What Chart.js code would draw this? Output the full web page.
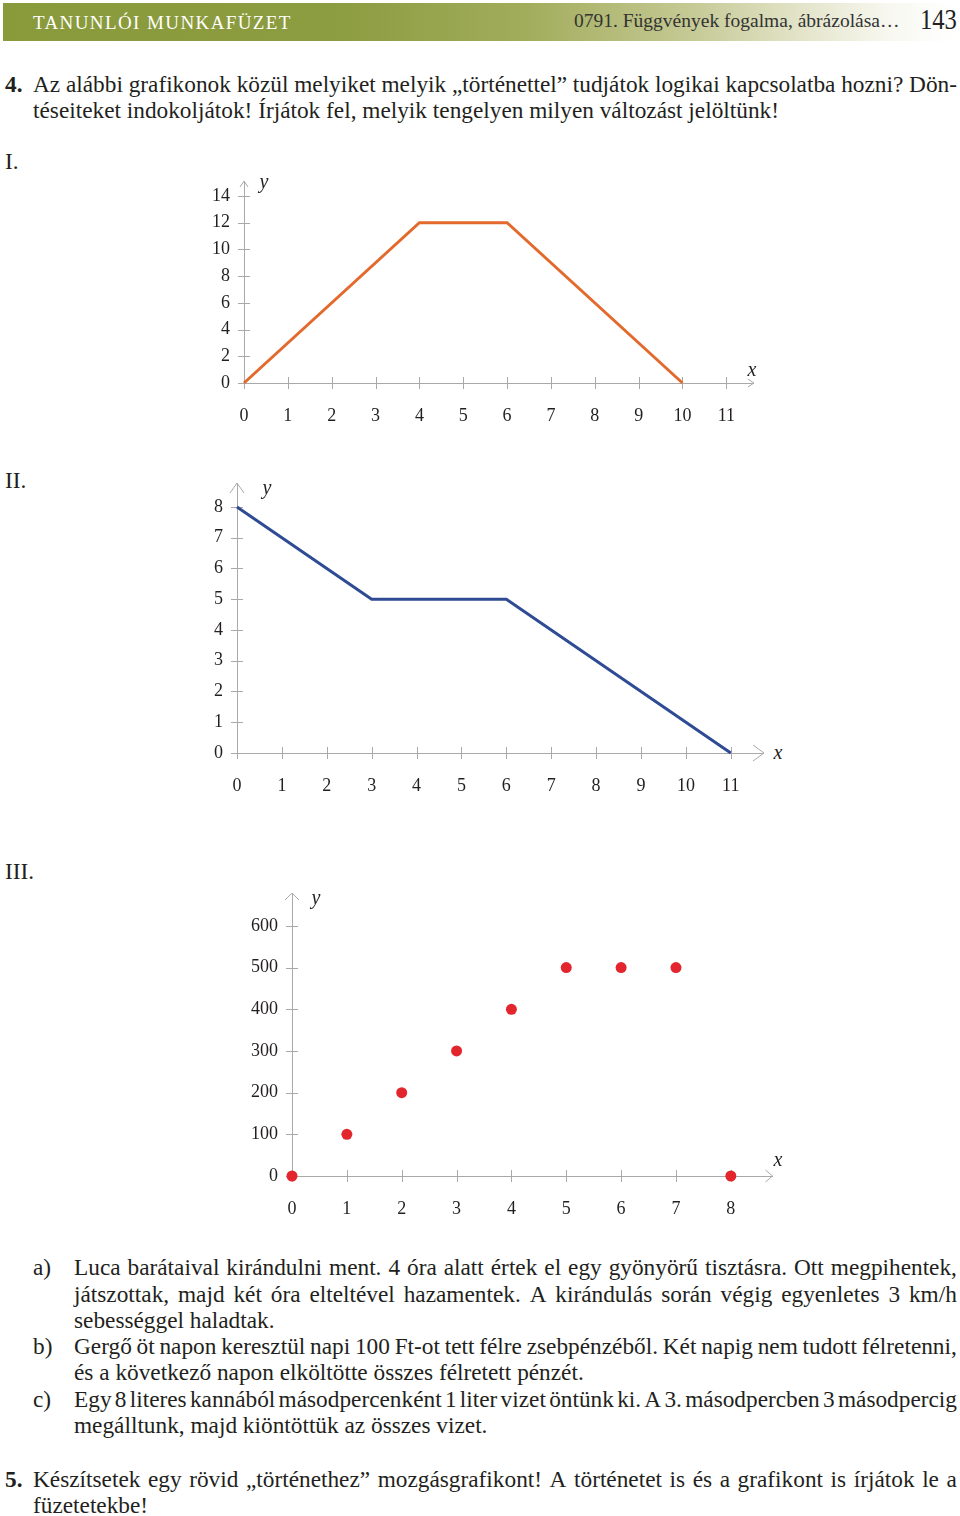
<!DOCTYPE html>
<html><head><meta charset="utf-8">
<script src="https://cdn.jsdelivr.net/npm/chart.js@4.4.0/dist/chart.umd.min.js"></script>
<style>
html,body{margin:0;padding:0;background:#fff;}
body{width:960px;height:1516px;position:relative;overflow:hidden;font-family:"Liberation Serif","Times New Roman",serif;color:#231f20;}
.t{position:absolute;white-space:nowrap;}
.j{display:flex;justify-content:space-between;white-space:nowrap;}
.band{position:absolute;left:3px;top:3px;width:954px;height:38px;
 background:linear-gradient(to right,#899a3b 0%,#8c9c40 35%,#a2ad5c 55%,#c5c994 72%,#e6e7cf 85%,#f8f8f1 93%,#ffffff 100%);}
canvas{position:absolute;}
</style></head><body>
<div class="band"></div>
<canvas id="c1" width="563" height="272" style="left:194px;top:156px;width:563px;height:272px"></canvas>
<canvas id="c2" width="577" height="340" style="left:187px;top:458px;width:577px;height:340px"></canvas>
<canvas id="c3" width="536" height="353" style="left:242px;top:868px;width:536px;height:353px"></canvas>
<script>
// ---------- data ----------
const xs1 = [0, 4, 6, 10];
const ys1 = [0, 12, 12, 0];
const xTicks1 = [0,1,2,3,4,5,6,7,8,9,10,11];
const yTicks1 = [0,2,4,6,8,10,12,14];

const xs2 = [0, 3, 6, 11];
const ys2 = [8, 5, 5, 0];
const xTicks2 = [0,1,2,3,4,5,6,7,8,9,10,11];
const yTicks2 = [0,1,2,3,4,5,6,7,8];

const xs3 = [0, 1, 2, 3, 4, 5, 6, 7, 8];
const ys3 = [0, 100, 200, 300, 400, 500, 500, 500, 0];
const xTicks3 = [0,1,2,3,4,5,6,7,8];
const yTicks3 = [0,100,200,300,400,500,600];

// ---------- text helpers ----------
const TXT = '#231f20';
function txt(s, x, cy, size, opt) {
  opt = opt || {};
  const d = document.createElement('div');
  d.className = 't';
  d.textContent = s;
  d.style.left = x + 'px';
  d.style.top = (cy - size / 2) + 'px';
  d.style.fontSize = size + 'px';
  d.style.lineHeight = size + 'px';
  d.style.color = opt.color || TXT;
  if (opt.bold) d.style.fontWeight = 'bold';
  if (opt.italic) d.style.fontStyle = 'italic';
  if (opt.ls) d.style.letterSpacing = opt.ls + 'px';
  if (opt.family) d.style.fontFamily = opt.family;
  if (opt.center) d.style.transform = 'translateX(-50%)';
  if (opt.sx) { d.style.transform = 'scaleX(' + opt.sx + ')'; d.style.transformOrigin = 'left center'; }
  document.body.appendChild(d);
  return d;
}
function jline(s, x, cy, w, size) {
  const d = document.createElement('div');
  d.className = 'j';
  d.style.position = 'absolute';
  d.style.left = x + 'px';
  d.style.top = (cy - size / 2) + 'px';
  d.style.width = w + 'px';
  d.style.fontSize = size + 'px';
  d.style.lineHeight = size + 'px';
  d.style.color = TXT;
  s.split(' ').forEach(word => {
    const sp = document.createElement('span');
    sp.textContent = word;
    d.appendChild(sp);
  });
  document.body.appendChild(d);
}

const FS = 23.3;
// header
txt('TANUNLÓI MUNKAFÜZET', 33, 22, 19, {color:'#ffffff', ls:1.4});
txt('0791. Függvények fogalma, ábrázolása…', 574, 21, 19.5, {color:'#333333'});
txt('143', 920, 19, 30, {color:'#222222', sx:0.82});

// exercise 4
txt('4.', 5, 85, FS, {bold:true});
jline('Az alábbi grafikonok közül melyiket melyik „történettel” tudjátok logikai kapcsolatba hozni? Dön-', 33, 85, 924, FS);
txt('téseiteket indokoljátok! Írjátok fel, melyik tengelyen milyen változást jelöltünk!', 33, 111, FS);

txt('I.', 5, 162, FS);
txt('II.', 5, 481, FS);
txt('III.', 5, 872, FS);

// axis names
txt('y', 264, 181, 20, {italic:true, center:true});
txt('x', 752, 369, 20, {italic:true, center:true});
txt('y', 267, 487, 20, {italic:true, center:true});
txt('x', 778, 752, 20, {italic:true, center:true});
txt('y', 316, 897, 20, {italic:true, center:true});
txt('x', 778, 1159, 20, {italic:true, center:true});

// stories
txt('a)', 33, 1268, FS);
jline('Luca barátaival kirándulni ment. 4 óra alatt értek el egy gyönyörű tisztásra. Ott megpihentek,', 74, 1268, 883, FS);
jline('játszottak, majd két óra elteltével hazamentek. A kirándulás során végig egyenletes 3 km/h', 74, 1295, 883, FS);
txt('sebességgel haladtak.', 74, 1321, FS);
txt('b)', 33, 1347, FS);
jline('Gergő öt napon keresztül napi 100 Ft-ot tett félre zsebpénzéből. Két napig nem tudott félretenni,', 74, 1347, 883, FS);
txt('és a következő napon elköltötte összes félretett pénzét.', 74, 1373, FS);
txt('c)', 33, 1400, FS);
jline('Egy 8 literes kannából másodpercenként 1 liter vizet öntünk ki. A 3. másodpercben 3 másodpercig', 74, 1400, 883, FS);
txt('megálltunk, majd kiöntöttük az összes vizet.', 74, 1426, FS);

txt('5.', 5, 1480, FS, {bold:true});
jline('Készítsetek egy rövid „történethez” mozgásgrafikont! A történetet is és a grafikont is írjátok le a', 33, 1480, 924, FS);
txt('füzetetekbe!', 33, 1506, FS);

// ---------- charts ----------
const AX = '#a9a9a9';
const deco = {
  id: 'deco',
  beforeDatasetsDraw(chart) {
    const o = chart.options.plugins.deco;
    const xs = chart.scales.x, ys = chart.scales.y;
    const ctx = chart.ctx;
    const x0 = xs.getPixelForValue(0), y0 = ys.getPixelForValue(0);
    ctx.save();
    ctx.strokeStyle = AX;
    ctx.lineWidth = 1;
    ctx.beginPath();
    xs.ticks.forEach(t => {
      const px = Math.round(xs.getPixelForValue(t.value)) + 0.5;
      ctx.moveTo(px, y0 - 6); ctx.lineTo(px, y0 + 6);
    });
    ys.ticks.forEach(t => {
      const py = Math.round(ys.getPixelForValue(t.value)) + 0.5;
      ctx.moveTo(x0 - 6, py); ctx.lineTo(x0 + 6, py);
    });
    ctx.stroke();
    // arrowheads
    const xr = xs.getPixelForValue(xs.max), yt = ys.getPixelForValue(ys.max);
    const a = o.arrowX, b = o.arrowY;
    ctx.beginPath();
    ctx.moveTo(xr - a[0], y0 - a[1]); ctx.lineTo(xr, y0); ctx.lineTo(xr - a[0], y0 + a[1]);
    ctx.moveTo(x0 - b[1], yt + b[0]); ctx.lineTo(x0, yt); ctx.lineTo(x0 + b[1], yt + b[0]);
    ctx.stroke();
    ctx.restore();
  }
};

function makeChart(id, c) {
  const pts = c.xs.map((x, i) => ({x: x, y: c.ys[i]}));
  const tickFont = {family: 'Liberation Serif', size: 18};
  return new Chart(document.getElementById(id), {
    type: 'scatter',
    data: {datasets: [{
      data: pts,
      showLine: c.line,
      borderColor: c.color,
      backgroundColor: c.color,
      borderWidth: c.line ? 3 : 0,
      pointRadius: c.line ? 0 : 5.5,
      pointHoverRadius: 0,
      tension: 0,
      clip: false
    }]},
    options: {
      responsive: false,
      animation: false,
      events: [],
      layout: {padding: {top: 25, left: 0, right: 0, bottom: 0}},
      plugins: {
        legend: {display: false},
        tooltip: {enabled: false},
        deco: {arrowX: c.arrowX, arrowY: c.arrowY}
      },
      scales: {
        x: {
          type: 'linear', min: 0, max: c.xMax, bounds: 'data',
          afterBuildTicks: s => { s.ticks = c.xTicks.map(v => ({value: v})); },
          afterFit: s => { s.height = 45; },
          grid: {display: false, drawTicks: false},
          border: {display: true, color: AX, width: 1},
          ticks: {padding: 22, color: TXT, font: tickFont, autoSkip: false, maxRotation: 0,
                  callback: v => String(v)}
        },
        y: {
          type: 'linear', min: 0, max: c.yMax, bounds: 'data',
          afterBuildTicks: s => { s.ticks = c.yTicks.map(v => ({value: v})); },
          afterFit: s => { s.width = 50; },
          grid: {display: false, drawTicks: false},
          border: {display: true, color: AX, width: 1},
          ticks: {padding: 14, color: TXT, font: tickFont, autoSkip: false,
                  callback: v => String(v)}
        }
      }
    },
    plugins: [deco]
  });
}

makeChart('c1', {xs: xs1, ys: ys1, xTicks: xTicks1, yTicks: yTicks1, xMax: 11.63, yMax: 15.12,
  line: true, color: '#e36a2c', arrowX: [6, 4], arrowY: [6, 4]});
makeChart('c2', {xs: xs2, ys: ys2, xTicks: xTicks2, yTicks: yTicks2, xMax: 11.74, yMax: 8.78,
  line: true, color: '#2e4b94', arrowX: [11, 8], arrowY: [10, 7]});
makeChart('c3', {xs: xs3, ys: ys3, xTicks: xTicks3, yTicks: yTicks3, xMax: 8.76, yMax: 679,
  line: false, color: '#e3262e', arrowX: [7, 6], arrowY: [7, 7]});
</script>
</body></html>
